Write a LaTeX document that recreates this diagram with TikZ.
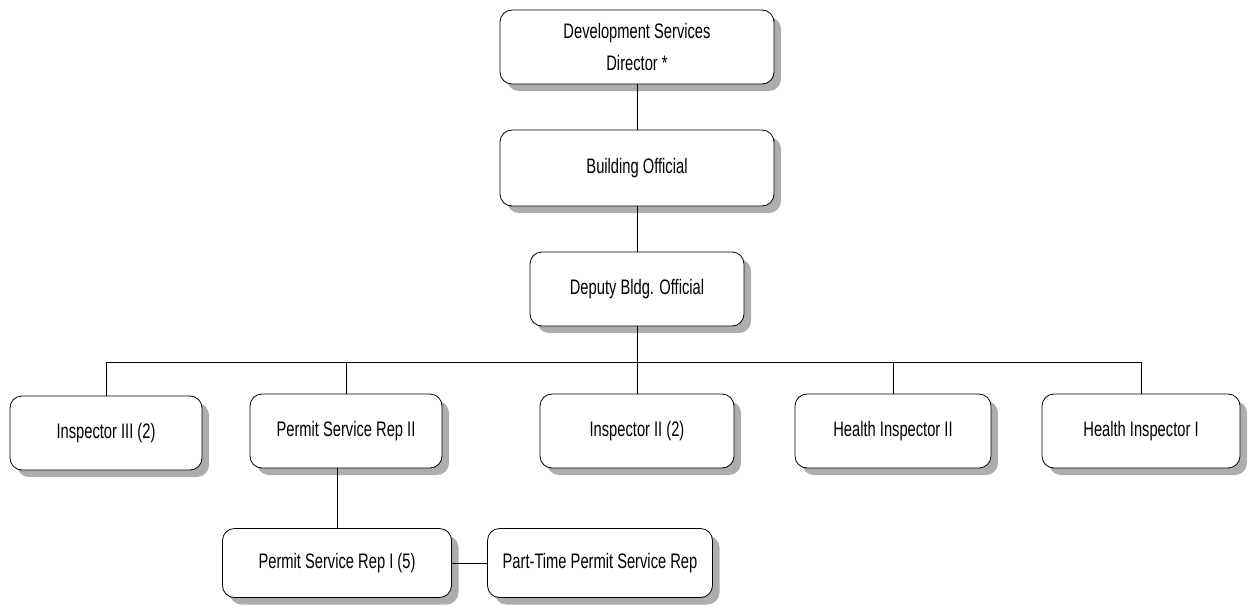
\documentclass[tikz,border=0pt]{standalone}
\usepackage{fontspec}
\setmainfont[FakeStretch=0.70]{Liberation Sans}
\usetikzlibrary{shadows}
\begin{document}
\begin{tikzpicture}[x=1pt,y=-1pt,
  box/.style={draw, line width=0.8pt, rounded corners=12pt, fill=white, align=center,
    inner sep=0pt, font=\fontsize{21}{32}\selectfont,
    drop shadow={shadow xshift=7pt, shadow yshift=-7pt, fill=black!32, opacity=1}},
  link/.style={draw, line width=0.8pt}]
\useasboundingbox (0,0) rectangle (1248,608);
\node[box, minimum width=274pt, minimum height=74pt] (dir) at (637,47) {Development Services\\Director *};
\node[box, minimum width=274pt, minimum height=76pt] (bo) at (637,168) {Building Official};
\node[box, minimum width=214pt, minimum height=74pt] (dep) at (637,289) {Deputy Bldg. Official};
\node[box, minimum width=192pt, minimum height=74pt] (i3) at (106,433) {Inspector III (2)};
\node[box, minimum width=192pt, minimum height=74pt] (p2) at (346,431) {Permit Service Rep II};
\node[box, minimum width=194pt, minimum height=74pt] (i2) at (637,431) {Inspector II (2)};
\node[box, minimum width=196pt, minimum height=74pt] (h2) at (893,431) {Health Inspector II};
\node[box, minimum width=198pt, minimum height=74pt] (h1) at (1141,431) {Health Inspector I};
\node[box, minimum width=229pt, minimum height=69pt] (p1) at (337,563) {Permit Service Rep I (5)};
\node[box, minimum width=225pt, minimum height=69pt] (pt) at (600,563) {Part-Time Permit Service Rep};
\coordinate (bus) at (637,362);
\path[link] (dir.south) -- (bo.north);
\path[link] (bo.south) -- (dep.north);
\path[link] (dep.south) -- (bus);
\path[link] (i3.north) |- (bus);
\path[link] (p2.north) |- (bus);
\path[link] (i2.north) -- (bus);
\path[link] (h2.north) |- (bus);
\path[link] (h1.north) |- (bus);
\path[link] (p1.north) -- (p1.north |- p2.south);
\path[link] (p1.east) -- (pt.west);
\end{tikzpicture}
\end{document}
